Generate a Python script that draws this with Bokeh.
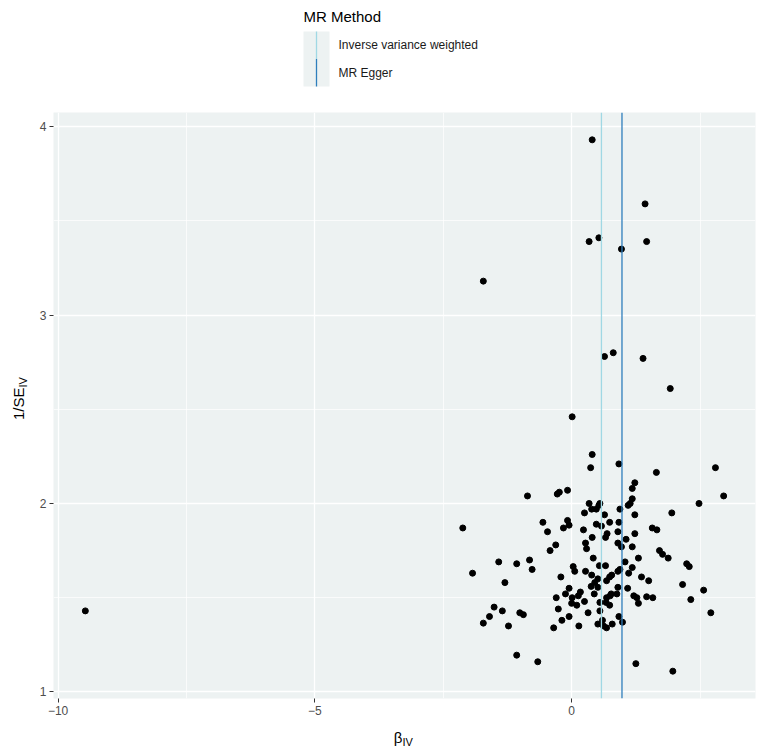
import math
from bokeh.plotting import figure
from bokeh.layouts import column, row
from bokeh.models import ColumnDataSource, Range1d, FixedTicker, Span
from bokeh.core.properties import value
from bokeh.embed import file_html
from bokeh.resources import INLINE

# ---------------- data ----------------
beta_iv = [
    0.40, 1.43, 0.53, 0.34, 1.46, 0.97, -1.72, 0.81, 0.64, 1.39, 1.92, 0.01,
    0.40, 0.37, 0.92, 1.65, 2.80, 2.96, 1.23, 1.18, 1.18, 1.14,
    1.10, -0.86, -0.28, -0.24, -0.08, 0.34, 0.55, 0.53, 0.48, 0.39,
    0.25, 0.94, 1.23, 2.48, 1.95, 0.64, 0.74, 0.92, -0.56, -0.08,
    -0.05, -0.16, -0.47, 0.23, 0.48, 0.58, -2.12, 0.69, 0.66, 0.90,
    1.23, 1.57, 1.66, 0.40, 1.06, 0.90, 0.97, 1.18, 0.27, 0.29,
    -0.31, -0.42, 1.71, 1.77, 1.88, 0.42, 1.30, 1.04, -1.42, -1.07,
    -0.82, -0.77, -1.93, 0.03, 0.06, 0.54, 0.66, 0.27, 0.94, 0.90,
    1.18, 1.11, 2.24, 2.29, 0.39, 0.51, 0.45, 0.78, 0.74, 0.68,
    1.36, 1.50, -0.21, -1.30, 2.16, 2.57, -0.05, 0.38, 0.51, 0.90,
    1.09, 0.44, -0.12, 0.17, 0.13, 0.01, -0.30, 0.25, 0.10, 0.00,
    0.68, 0.75, 0.77, 0.67, 0.74, 0.88, 0.55, 1.21, 1.27, 1.30,
    1.46, 1.58, 2.32, 2.71, -1.51, -1.60, -1.35, -1.72, -1.01, -0.94,
    -1.23, -0.26, -0.05, -0.19, -0.35, 0.14, 0.32, 0.55, 0.92, 0.51,
    0.60, 0.62, 0.68, 0.79, 0.99, -1.07, -0.66, 1.25, 1.97,
    -9.47,
]
inv_se_iv = [
    3.93, 3.59, 3.41, 3.39, 3.39, 3.35, 3.18, 2.80, 2.78, 2.77, 2.61, 2.46,
    2.26, 2.19, 2.21, 2.165, 2.19, 2.04, 2.11, 2.08, 2.025, 2.00,
    1.99, 2.04, 2.05, 2.06, 2.07, 2.00, 2.00, 1.99, 1.97, 1.97,
    1.95, 1.97, 1.94, 2.00, 1.95, 1.94, 1.90, 1.90, 1.90, 1.91,
    1.885, 1.87, 1.85, 1.86, 1.89, 1.88, 1.87, 1.84, 1.82, 1.85,
    1.84, 1.87, 1.86, 1.82, 1.81, 1.79, 1.77, 1.77, 1.79, 1.76,
    1.78, 1.75, 1.75, 1.73, 1.71, 1.71, 1.71, 1.69, 1.69, 1.68,
    1.70, 1.65, 1.63, 1.665, 1.64, 1.67, 1.67, 1.64, 1.65, 1.64,
    1.66, 1.63, 1.68, 1.665, 1.62, 1.60, 1.58, 1.62, 1.61, 1.59,
    1.61, 1.59, 1.61, 1.58, 1.57, 1.54, 1.55, 1.56, 1.555, 1.555,
    1.55, 1.52, 1.52, 1.53, 1.51, 1.50, 1.50, 1.48, 1.46, 1.47,
    1.50, 1.51, 1.52, 1.475, 1.46, 1.52, 1.475, 1.51, 1.50, 1.47,
    1.505, 1.50, 1.49, 1.42, 1.45, 1.40, 1.43, 1.365, 1.42, 1.41,
    1.35, 1.44, 1.40, 1.38, 1.34, 1.35, 1.42, 1.43, 1.40, 1.36,
    1.38, 1.35, 1.34, 1.36, 1.37, 1.195, 1.16, 1.15, 1.11,
    1.43,
]
method_names = ["Inverse variance weighted", "MR Egger"]
method_slopes = [0.58, 0.98]
method_colors = ["#A0D8E4", "#2F7EBC"]
x_ticks = [-10, -5, 0]
x_minor = [-7.5, -2.5, 2.5]
y_ticks = [1, 2, 3, 4]
y_minor = [1.5, 2.5, 3.5]

FONT = "Liberation Sans"
PANEL_BG = "#EDF2F2"
TOTAL_W = 760
LEG_H = 104
MAIN_H = 620
XT_H = 28
YT_W = 30
MAIN_W = TOTAL_W - YT_W


def strip(width, height):
    f = figure(width=width, height=height, output_backend="svg", toolbar_location=None,
               x_range=Range1d(0, width), y_range=Range1d(height, 0),
               min_border=0, outline_line_color=None)
    f.axis.visible = False
    f.grid.visible = False
    f.background_fill_color = "white"
    f.border_fill_color = "white"
    return f


# ---------------- legend strip ----------------
leg = strip(TOTAL_W, LEG_H)
key_left, key_right, key_top, key_h = 303, 329, 31, 27.5
n = len(method_names)
key_tops = [key_top + i * key_h for i in range(n)]
leg.quad(left=[key_left] * n, right=[key_right] * n,
         top=key_tops, bottom=[t + key_h for t in key_tops],
         fill_color=PANEL_BG, line_color=None)
kx = (key_left + key_right) / 2
leg.segment(x0=[kx] * n, x1=[kx] * n, y0=key_tops, y1=[t + key_h for t in key_tops],
            line_color=method_colors, line_width=1.3)
leg.text(x=[key_right + 9] * n, y=[t + key_h / 2 for t in key_tops],
         text=method_names, text_font=value(FONT), text_font_size=value("12px"),
         text_baseline="middle", text_align="left", text_color="#1A1A1A")
leg.text(x=[key_left], y=[16], text=["MR Method"], text_font=value(FONT),
         text_font_size=value("15px"), text_baseline="middle", text_align="left",
         text_color="#000000")

# ---------------- y title strip ----------------
yt = strip(YT_W, MAIN_H)
yc = 305 - LEG_H + 90  # junction between "1/SE" and subscript
yt.text(x=[18], y=[yc], text=["1/SE"], angle=math.pi / 2, text_font=value(FONT),
        text_font_size=value("15px"), text_align="right", text_baseline="middle",
        text_color="#000000")
yt.text(x=[22], y=[yc], text=["IV"], angle=math.pi / 2, text_font=value(FONT),
        text_font_size=value("11px"), text_align="left", text_baseline="middle",
        text_color="#000000")

# ---------------- x title strip ----------------
xt = strip(TOTAL_W, XT_H)
xt.text(x=[402], y=[13], text=["β"], text_font=value(FONT), text_font_size=value("15px"),
        text_align="right", text_baseline="middle", text_color="#000000")
xt.text(x=[402], y=[17], text=["IV"], text_font=value(FONT), text_font_size=value("11px"),
        text_align="left", text_baseline="middle", text_color="#000000")

# ---------------- main plot ----------------
src = ColumnDataSource(dict(beta=beta_iv, inv_se=inv_se_iv))
p = figure(width=MAIN_W, height=MAIN_H, output_backend="svg", toolbar_location=None,
           x_range=Range1d(-10.09, 3.58), y_range=Range1d(0.965, 4.075),
           min_border_left=23, min_border_right=5, min_border_top=8,
           min_border_bottom=26)
p.background_fill_color = PANEL_BG
p.border_fill_color = "white"
p.outline_line_color = None

p.xaxis.ticker = FixedTicker(ticks=x_ticks, minor_ticks=x_minor)
p.yaxis.ticker = FixedTicker(ticks=y_ticks, minor_ticks=y_minor)
for ax in (p.xaxis, p.yaxis):
    ax.axis_line_color = None
    ax.major_tick_line_color = "#333333"
    ax.major_tick_out = 4
    ax.major_tick_in = 0
    ax.minor_tick_line_color = None
    ax.major_label_text_font = FONT
    ax.major_label_text_font_size = "12px"
    ax.major_label_text_color = "#4D4D4D"
    ax.major_label_standoff = 3
p.grid.grid_line_color = "white"
p.grid.grid_line_width = 1.3
p.grid.minor_grid_line_color = "white"
p.grid.minor_grid_line_width = 0.7

for slope, col in zip(method_slopes, method_colors):
    p.add_layout(Span(location=slope, dimension="height", line_color=col, line_width=1.3))

p.scatter("beta", "inv_se", source=src, size=6, color="black")

layout = column(leg, row(yt, p, spacing=0), xt, spacing=0)
open("out.html", "w").write(file_html(layout, INLINE))
